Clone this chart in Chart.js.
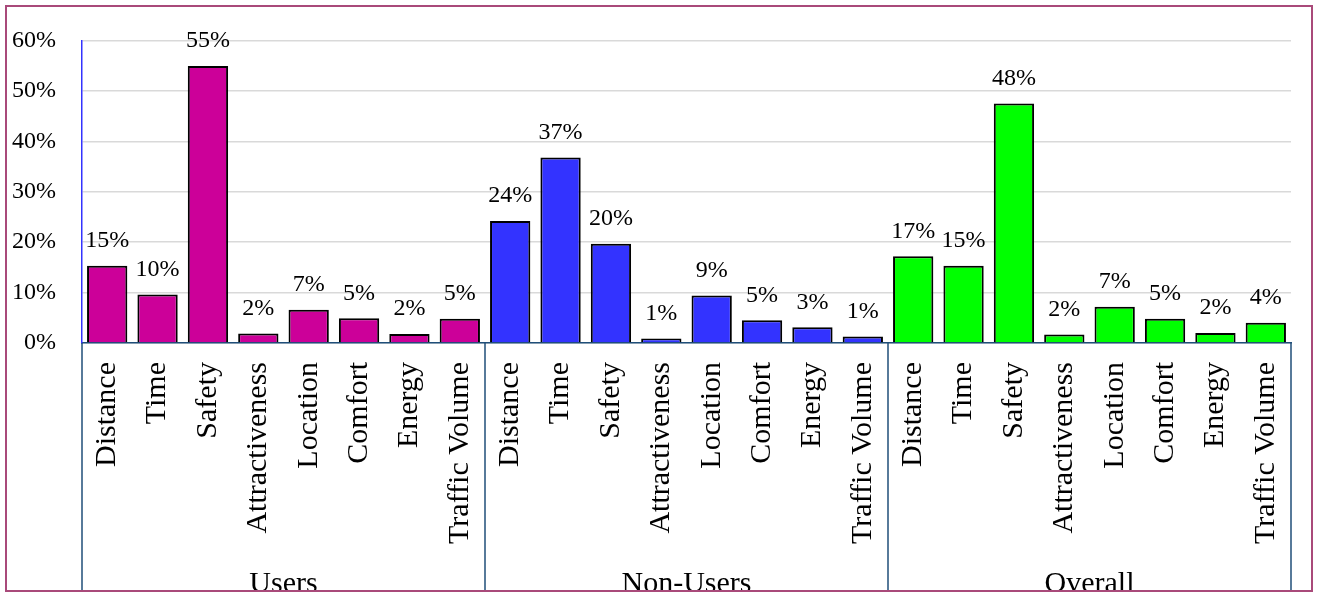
<!DOCTYPE html>
<html>
<head>
<meta charset="utf-8">
<script src="https://cdn.jsdelivr.net/npm/chart.js@4/dist/chart.umd.min.js"></script>
<style>
  html, body { margin: 0; padding: 0; background: #fff; }
  #wrap { position: absolute; left: 0; top: 0; width: 1317px; height: 592px; overflow: hidden; }
  #frame { position: absolute; left: 5px; top: 5px; width: 1308px; height: 587px; box-sizing: border-box;
           border: 2px solid #a94a7a; pointer-events: none; }
  canvas { position: absolute; left: 0; top: 0; }
</style>
</head>
<body>
<div id="wrap">
  <canvas id="factorChart" width="1317" height="620"></canvas>
  <div id="frame"></div>
</div>
<script>
const groups = ['Users', 'Non-Users', 'Overall'];
const factors = ['Distance', 'Time', 'Safety', 'Attractiveness', 'Location', 'Comfort', 'Energy', 'Traffic Volume'];
const usersValues = [15.3, 9.6, 54.9, 1.9, 6.6, 4.9, 1.8, 4.8];
const nonUsersValues = [24.2, 36.8, 19.7, 0.9, 9.4, 4.5, 3.1, 1.3];
const overallValues = [17.2, 15.3, 47.5, 1.7, 7.2, 4.8, 2.0, 4.0];
const groupColors = ['#cc0099', '#3333ff', '#00ff00'];
const yTicks = [0, 10, 20, 30, 40, 50, 60];

const labels = [...factors, ...factors, ...factors];
const values = [...usersValues, ...nonUsersValues, ...overallValues];
const barColors = labels.map((_, i) => groupColors[Math.floor(i / factors.length)]);

const serif = "'Liberation Serif', 'Times New Roman', serif";

// value labels above each bar
const valueLabels = {
  id: 'valueLabels',
  afterDatasetsDraw(chart) {
    const { ctx } = chart;
    const meta = chart.getDatasetMeta(0);
    ctx.save();
    ctx.font = `24px ${serif}`;
    ctx.fillStyle = '#000';
    ctx.textAlign = 'center';
    ctx.textBaseline = 'middle';
    meta.data.forEach((bar, i) => {
      ctx.fillText(Math.round(values[i]) + '%', bar.x, bar.y - 25);
    });
    ctx.restore();
  }
};

// group separators running down through the category labels
const groupLines = {
  id: 'groupLines',
  afterDraw(chart) {
    const { ctx } = chart;
    const x = chart.scales.x;
    const half = (x.getPixelForValue(1) - x.getPixelForValue(0)) / 2;
    ctx.save();
    ctx.strokeStyle = '#1f4e79';
    ctx.lineWidth = 1.5;
    for (let g = 0; g <= groups.length; g++) {
      const idx = g * factors.length;
      const px = idx < labels.length ? x.getPixelForValue(idx) - half : x.getPixelForValue(labels.length - 1) + half;
      ctx.beginPath();
      ctx.moveTo(px, chart.chartArea.bottom);
      ctx.lineTo(px, chart.height);
      ctx.stroke();
    }
    ctx.restore();
  }
};

new Chart(document.getElementById('factorChart'), {
  type: 'bar',
  data: {
    labels,
    datasets: [{
      data: values,
      backgroundColor: barColors,
      borderColor: '#000',
      borderWidth: 2,
      barPercentage: 0.8,
      categoryPercentage: 1.0
    }]
  },
  options: {
    responsive: false,
    animation: false,
    layout: { padding: { top: 38, right: 26, left: 0, bottom: 0 } },
    plugins: { legend: { display: false }, tooltip: { enabled: false } },
    scales: {
      x: {
        weight: 0,
        grid: { display: false },
        border: { display: true, color: '#1f4e79', width: 1.5 },
        ticks: {
          autoSkip: false, minRotation: 90, maxRotation: 90, padding: 11,
          color: '#000', font: { family: serif, size: 30 }
        },
        afterFit(scale) { scale.height = 207; }
      },
      x2: {
        type: 'category',
        labels: groups,
        position: 'bottom',
        weight: 1,
        offset: true,
        grid: { display: false },
        border: { display: false },
        ticks: { padding: 8, color: '#000', font: { family: serif, size: 30 } },
        afterFit(scale) { scale.height = 70; }
      },
      y: {
        min: 0,
        max: 60,
        afterBuildTicks(scale) { scale.ticks = yTicks.map((v) => ({ value: v })); },
        grid: { color: '#d9d9d9', lineWidth: 1.5, drawTicks: false },
        border: { display: true, color: '#3333ff', width: 1.5 },
        ticks: {
          padding: 26, color: '#000', font: { family: serif, size: 24 },
          callback: (v) => v + '%'
        },
        afterFit(scale) { scale.width = 82; }
      }
    }
  },
  plugins: [valueLabels, groupLines]
});
</script>
</body>
</html>
